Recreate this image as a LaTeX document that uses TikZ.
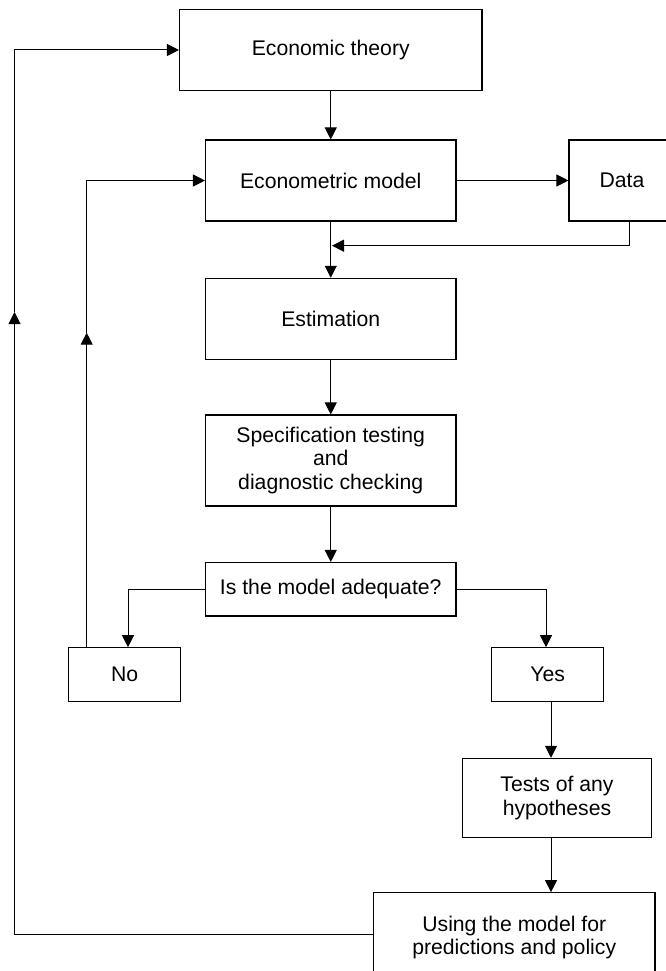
\documentclass[tikz,border=0pt]{standalone}
\usepackage{fontspec}
\setmainfont{Liberation Sans}
\usetikzlibrary{arrows.meta,calc}
\begin{document}
\begin{tikzpicture}[x=1pt,y=-1pt,
  box/.style={draw, line width=1.1pt, inner sep=0pt, align=center,
    font=\fontsize{21.2}{23.5}\selectfont},
  conn/.style={line width=1pt},
  arr/.style={conn, -{Triangle[length=12pt,width=12pt]}}]
\useasboundingbox (0,0) rectangle (666,971);
\fill[white] (0,0) rectangle (666,971);
% boxes
\node[box, minimum width=302.5pt, minimum height=81.4pt] (theory) at (330.75,50) {Economic theory};
\node[box, minimum width=250.5pt, minimum height=81pt] (model) at (330.75,180.5) {Econometric model};
\node[box, minimum width=106pt, minimum height=81pt] (data) at (622,180.5) {Data};
\node[box, minimum width=250.5pt, minimum height=81pt] (est) at (330.75,318.8) {Estimation};
\node[box, minimum width=250.5pt, minimum height=91pt] (spec) at (330.75,460.5) {Specification testing\\and\\diagnostic checking};
\node[box, minimum width=250.5pt, minimum height=53.5pt] (adeq) at (330.75,589.25) {Is the model adequate?};
\node[box, minimum width=112.3pt, minimum height=53.3pt] (no) at (124.6,674.4) {No};
\node[box, minimum width=112.3pt, minimum height=53.3pt] (yes) at (547.6,674.4) {Yes};
\node[box, minimum width=189pt, minimum height=79.4pt] (tests) at (557,798) {Tests of any\\hypotheses};
\node[box, minimum width=281.5pt, minimum height=89.6pt] (using) at (514.25,937.5) {Using the model for\\predictions and policy};
% helper coordinates
\coordinate (dr) at (629.5,245.7);
\coordinate (dj) at (332,245.7);
\coordinate (la) at (14.5,312);
\coordinate (lb) at (14.5,934);
\coordinate (ia) at (86.7,332.7);
\coordinate (nl) at (128,587);
\coordinate (yr) at (546,587);
\coordinate (vx) at (551,750);
% connectors
\draw[arr] (theory.south) -- (model.north);
\draw[arr] (model.east) -- (data.west);
\draw[arr] (data.south -| dr) -- (dr) -- (dj);
\draw[arr] (model.south) -- (est.north);
\draw[arr] (est.south) -- (spec.north);
\draw[arr] (spec.south) -- (adeq.north);
\draw[arr] (adeq.west) -- (adeq.west -| nl) -- (nl |- no.north);
\draw[arr] (adeq.east) -- (adeq.east -| yr) -- (yr |- yes.north);
\draw[arr] (yes.south -| vx) -- (vx |- tests.north);
\draw[arr] (tests.south -| vx) -- (vx |- using.north);
\draw[arr] (no.north -| ia) -- (ia);
\draw[arr] (ia) -- (ia |- model.west) -- (model.west);
\draw[arr] (lb -| using.west) -- (lb) -- (la);
\draw[arr] (la) -- (la |- theory.west) -- (theory.west);
\end{tikzpicture}
\end{document}
